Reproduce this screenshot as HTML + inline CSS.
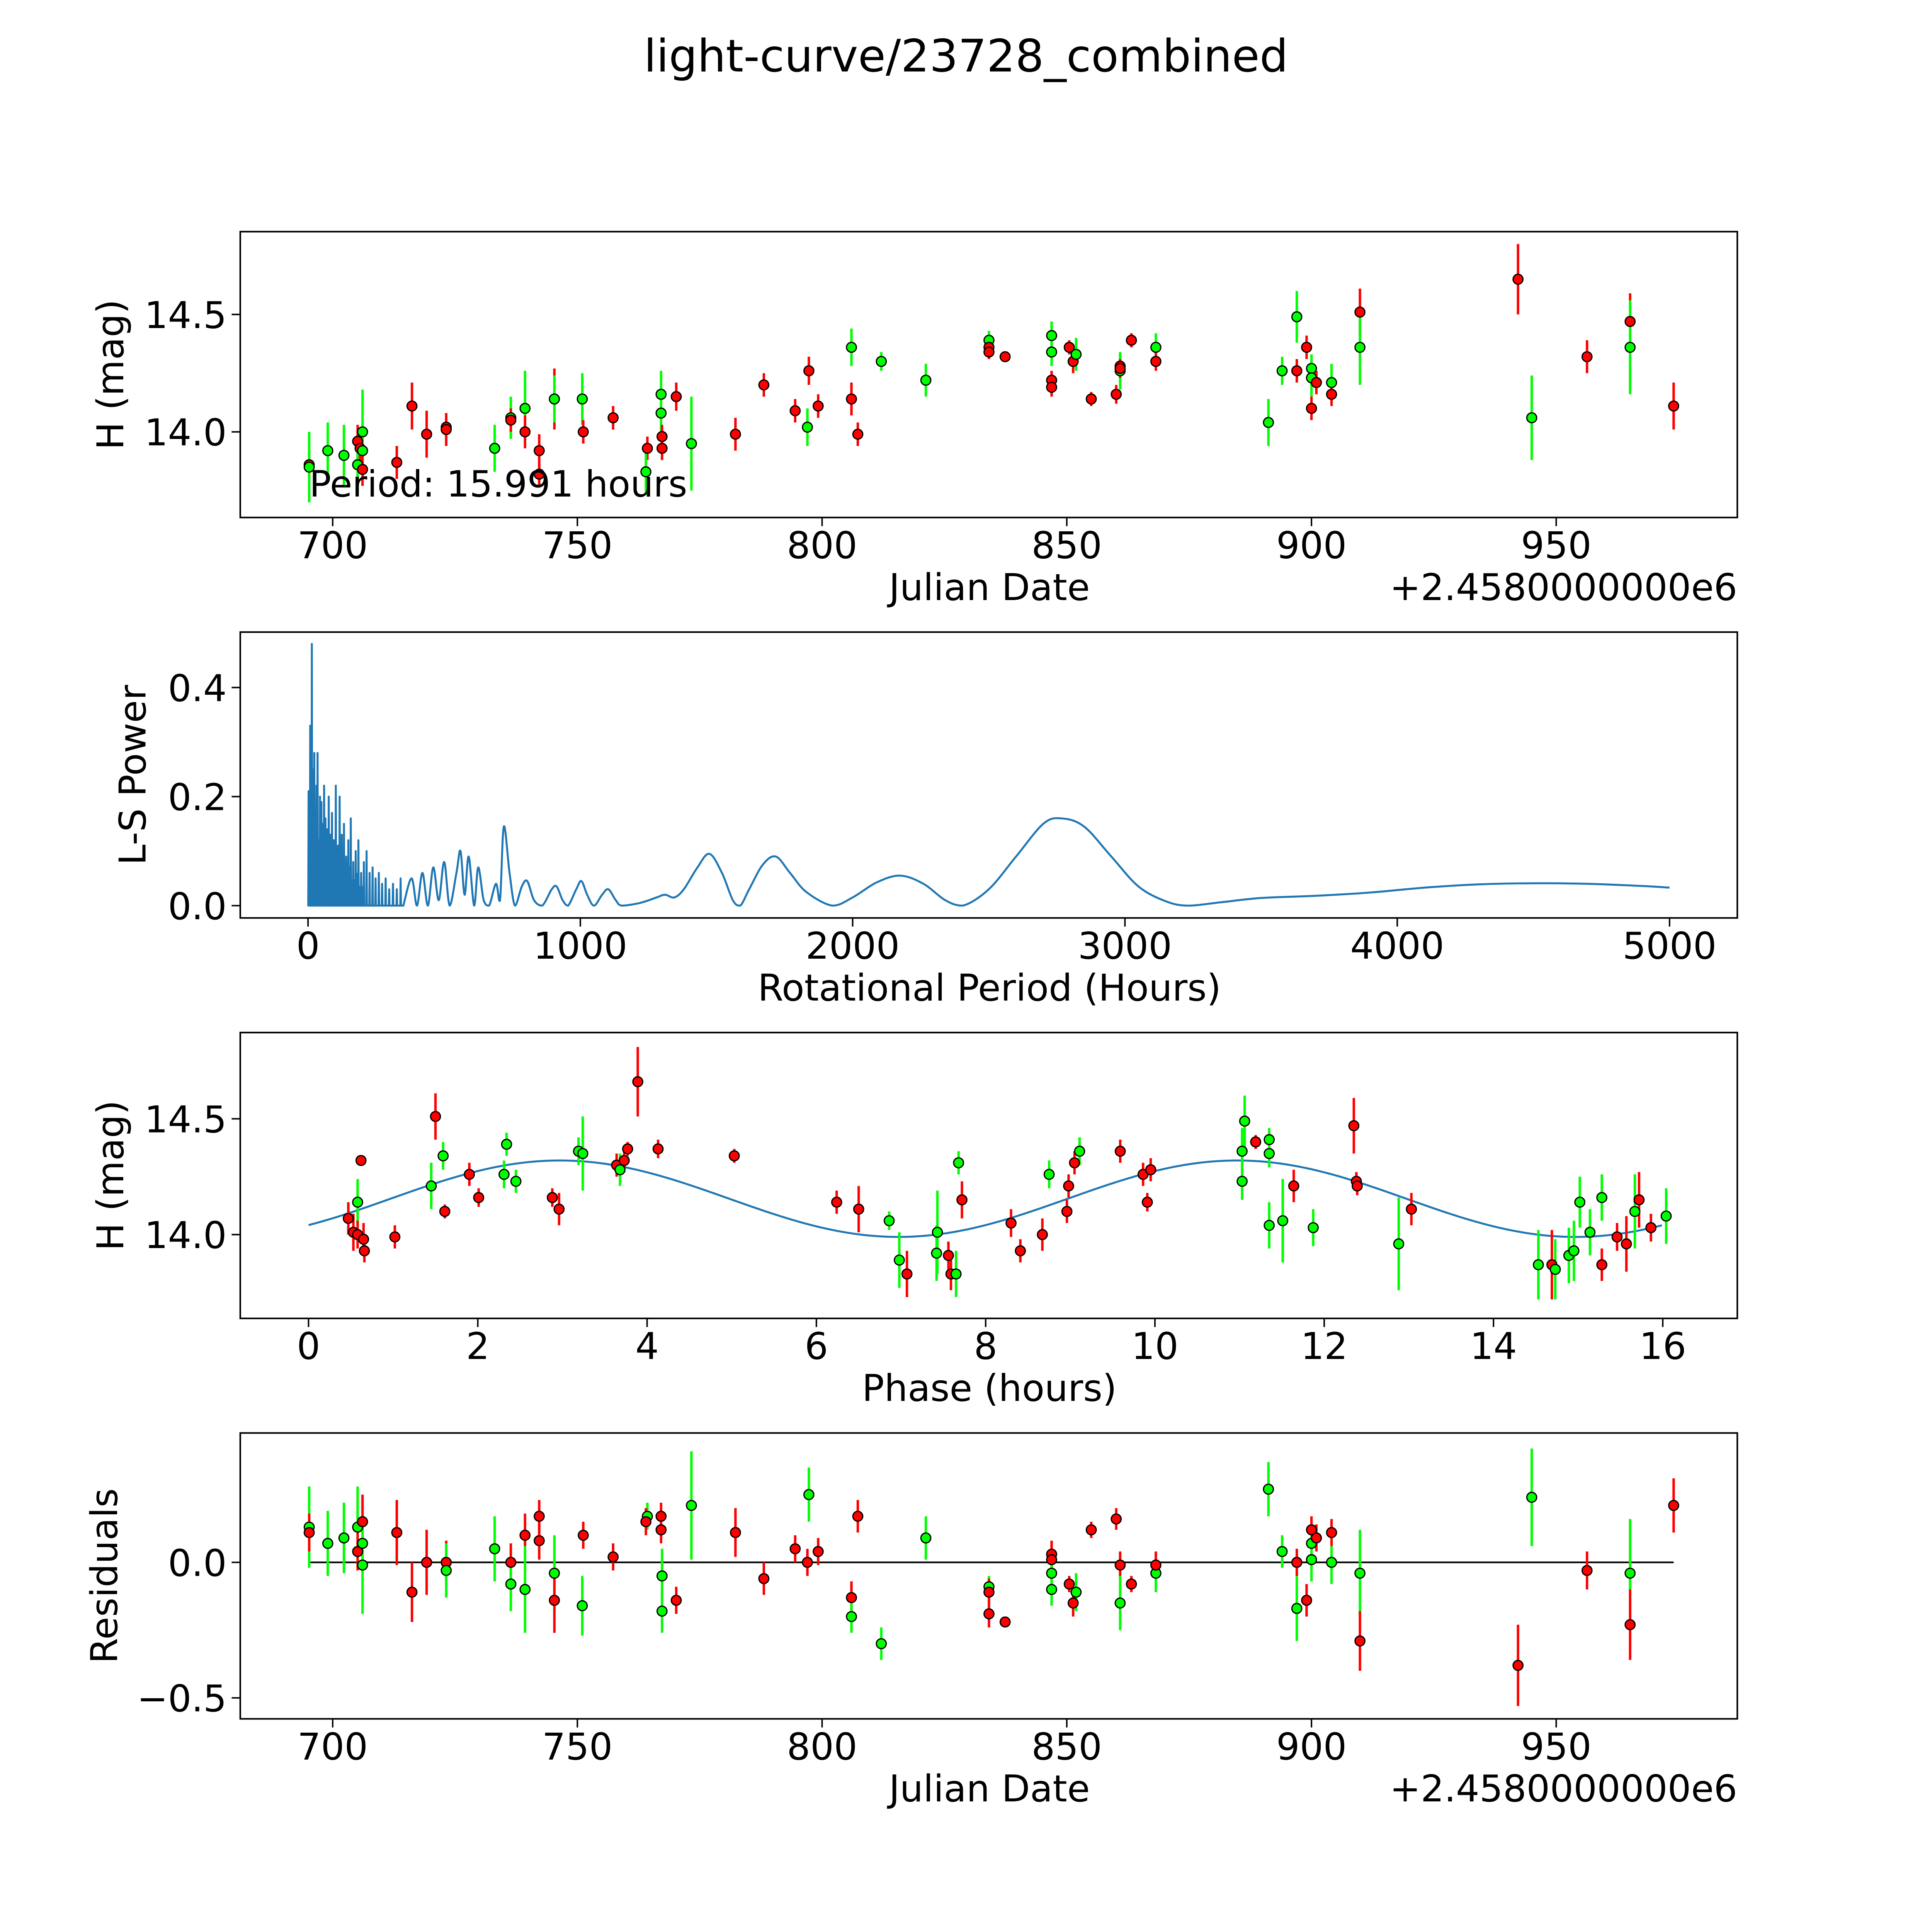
<!DOCTYPE html>
<html>
<head>
<meta charset="utf-8">
<style>
html,body{margin:0;padding:0;background:#fff;overflow:hidden;width:100vw;height:100vh;}
svg{display:block;position:fixed;left:0;top:0;width:100vw;height:100vh;}
text{font-family:"DejaVu Sans","Liberation Sans",sans-serif;fill:#000;}
</style>
</head>
<body>
<svg id="fig" viewBox="0 0 1568 1568" preserveAspectRatio="none" xmlns="http://www.w3.org/2000/svg">
<rect x="0" y="0" width="1568" height="1568" fill="#fff"/>
<text x="784" y="58" font-size="36.5" text-anchor="middle">light-curve/23728_combined</text>
<g id="p1"></g>
<g id="p2"></g>
<g id="p3"></g>
<g id="p4"></g>
</svg>
<script>
// ---------- Panel 1 data: light curve ----------
const lcDate = [695.2,695.2,699.0,702.3,705.1,705.1,705.6,706.1,706.1,706.1,713.1,716.2,719.2,723.2,723.2,733.1,736.4,736.4,739.3,739.3,742.2,742.2,745.3,745.3,751.0,751.2,757.3,764.3,764.0,767.1,767.1,767.3,767.3,770.2,773.3,782.3,788.1,794.5,797.3,797.0,799.2,806.0,806.0,807.3,812.1,821.2,834.1,834.1,834.1,837.4,846.9,846.9,846.9,846.9,850.5,851.3,851.9,855.0,860.1,860.9,860.9,860.9,863.2,868.2,868.2,891.2,894.0,897.0,897.0,899.0,900.0,900.0,900.0,901.0,904.1,904.1,909.9,909.9,942.2,945.0,956.3,965.1,965.1,974.0];
const lcMag = [13.86,13.85,13.92,13.90,13.96,13.86,13.93,14.00,13.92,13.84,13.87,14.11,13.99,14.02,14.01,13.93,14.06,14.05,14.10,14.00,13.92,13.82,14.14,14.14,14.14,14.00,14.06,13.93,13.83,14.16,14.08,13.98,13.93,14.15,13.95,13.99,14.20,14.09,14.26,14.02,14.11,14.36,14.14,13.99,14.30,14.22,14.39,14.36,14.34,14.32,14.41,14.34,14.22,14.19,14.36,14.30,14.33,14.14,14.16,14.28,14.26,14.27,14.39,14.36,14.30,14.04,14.26,14.26,14.49,14.36,14.27,14.23,14.10,14.21,14.21,14.16,14.51,14.36,14.65,14.06,14.32,14.47,14.36,14.11];
const lcErr = [0.06,0.15,0.12,0.13,0.07,0.12,0.06,0.18,0.10,0.07,0.07,0.10,0.10,0.06,0.07,0.10,0.09,0.05,0.16,0.07,0.07,0.05,0.13,0.10,0.11,0.05,0.05,0.05,0.10,0.10,0.10,0.05,0.05,0.06,0.20,0.07,0.05,0.05,0.06,0.08,0.05,0.08,0.07,0.05,0.04,0.07,0.04,0.03,0.03,0.02,0.06,0.06,0.04,0.04,0.03,0.05,0.07,0.03,0.04,0.05,0.08,0.04,0.03,0.06,0.04,0.10,0.06,0.05,0.11,0.05,0.06,0.08,0.05,0.05,0.08,0.05,0.10,0.16,0.15,0.18,0.07,0.12,0.20,0.10];
const lcBand = ['r','g','g','g','r','g','r','g','g','r','r','r','r','r','r','g','g','r','g','r','r','r','r','g','g','r','r','r','g','g','g','r','r','r','g','r','r','r','r','g','r','g','r','r','g','g','g','r','r','r','g','g','r','r','r','r','g','r','r','r','g','r','r','g','r','g','g','r','g','r','g','g','r','r','g','r','r','g','r','g','r','r','g','r'];
const lcXTicks = [700,750,800,850,900,950];
const lcYTicks = [14.0,14.5];

// ---------- Panel 2 data: periodogram ----------
const lsSpikePeriod = [2,5,8,11,14,17,20,23,27,31,35,39,44,49,54,59,64,70,76,82,88,95,102,109,116,124,132,140,148,157,166,175,185,195,205,215,226,237,248,260,272,285,298,312,326,340];
const lsSpikePower  = [0.21,0.12,0.33,0.20,0.48,0.25,0.18,0.28,0.16,0.22,0.28,0.12,0.20,0.19,0.15,0.22,0.16,0.14,0.20,0.13,0.17,0.12,0.22,0.11,0.20,0.13,0.15,0.09,0.12,0.16,0.08,0.10,0.12,0.06,0.08,0.10,0.06,0.07,0.05,0.06,0.04,0.05,0.03,0.04,0.03,0.05];
const lsPeriod = [350,380,400,420,440,460,480,500,520,545,560,575,590,610,625,645,665,690,705,719,740,760,785,805,830,860,895,913,935,955,985,1004,1025,1050,1080,1103,1130,1153,1220,1280,1311,1345,1380,1430,1474,1520,1560,1587,1620,1670,1718,1770,1830,1926,2000,2090,2175,2260,2340,2405,2500,2600,2700,2767,2850,2950,3050,3150,3232,3350,3500,3700,3900,4100,4300,4500,4700,4900,5000];
const lsPower  = [0,0.05,0,0.06,0,0.07,0.01,0.08,0,0.06,0.10,0.02,0.09,0,0.07,0.01,0,0.04,0.01,0.145,0.06,0,0.035,0.045,0.01,0,0.03,0.035,0.01,0,0.03,0.045,0.02,0,0.02,0.03,0.01,0,0.005,0.015,0.02,0.015,0.03,0.07,0.095,0.06,0.01,0,0.03,0.075,0.09,0.06,0.025,0,0.015,0.043,0.055,0.04,0.01,0,0.03,0.09,0.15,0.16,0.145,0.09,0.035,0.008,0,0.006,0.014,0.018,0.024,0.033,0.039,0.041,0.04,0.036,0.033];
const lsXTicks = [0,1000,2000,3000,4000,5000];
const lsYTicks = [0.0,0.2,0.4];

// ---------- Panel 3 data: phased ----------
const phPhase = [0.47,0.53,0.58,0.58,0.62,0.65,0.66,1.02,1.50,1.45,1.59,1.61,1.90,2.01,2.34,2.31,2.45,2.88,2.96,3.19,3.24,3.64,3.68,3.73,3.77,3.89,4.13,5.03,6.24,6.50,6.86,6.98,7.07,7.43,7.42,7.56,7.59,7.65,7.68,7.72,8.30,8.41,8.67,8.75,8.96,8.98,9.05,9.11,9.59,9.86,9.91,9.95,11.03,11.03,11.06,11.19,11.35,11.35,11.35,11.51,11.64,11.87,12.35,12.38,12.39,12.88,13.03,14.53,14.69,14.73,14.89,14.95,15.02,15.14,15.28,15.28,15.46,15.57,15.67,15.72,15.86,16.04];
const phMag = [14.07,14.01,14.14,14.00,14.32,13.98,13.93,13.99,14.51,14.21,14.34,14.10,14.26,14.16,14.39,14.26,14.23,14.16,14.11,14.36,14.35,14.30,14.28,14.32,14.37,14.66,14.37,14.34,14.14,14.11,14.06,13.89,13.83,14.01,13.92,13.91,13.83,13.83,14.31,14.15,14.05,13.93,14.00,14.26,14.10,14.21,14.31,14.36,14.36,14.26,14.14,14.28,14.36,14.23,14.49,14.40,14.41,14.35,14.04,14.06,14.21,14.03,14.47,14.23,14.21,13.96,14.11,13.87,13.87,13.85,13.91,13.93,14.14,14.01,14.16,13.87,13.99,13.96,14.10,14.15,14.03,14.08];
const phErr = [0.07,0.08,0.10,0.06,0.02,0.07,0.05,0.05,0.10,0.10,0.06,0.03,0.05,0.04,0.05,0.06,0.05,0.04,0.07,0.06,0.16,0.05,0.07,0.05,0.03,0.15,0.04,0.03,0.05,0.10,0.04,0.12,0.10,0.18,0.12,0.06,0.07,0.10,0.05,0.08,0.06,0.05,0.07,0.06,0.05,0.05,0.05,0.06,0.05,0.05,0.04,0.05,0.10,0.08,0.11,0.03,0.05,0.06,0.10,0.18,0.07,0.08,0.12,0.04,0.04,0.20,0.07,0.15,0.15,0.13,0.12,0.13,0.11,0.10,0.10,0.07,0.06,0.12,0.16,0.12,0.06,0.12];
const phBand = ['r','r','g','r','r','r','r','r','r','g','g','r','r','r','g','g','g','r','r','g','g','r','g','r','r','r','r','r','r','r','g','g','r','g','g','r','r','g','g','r','r','r','r','g','r','r','r','g','r','r','r','r','g','g','g','r','g','g','g','g','r','g','r','r','r','g','r','g','r','g','g','g','g','g','g','r','r','r','g','r','r','g'];
const phModelMean = [14.155];
const phModelAmp = [0.165];
const phModelPeak = [2.97];
const phModelPeriod = [8.0];
const phXTicks = [0,2,4,6,8,10,12,14,16];
const phYTicks = [14.0,14.5];

// ---------- Panel 4 data: residuals ----------
const rsDate = [695.2,695.2,699.0,702.3,705.1,705.1,706.1,706.1,706.1,713.1,716.2,719.2,723.2,723.2,733.1,736.4,736.4,739.3,739.3,742.2,742.2,745.3,745.3,751.0,751.2,757.3,764.3,764.0,767.1,767.1,767.3,767.3,770.2,773.3,782.3,788.1,794.5,797.3,797.0,799.2,806.0,806.0,807.3,812.1,821.2,834.1,834.1,834.1,837.4,846.9,846.9,846.9,846.9,850.5,851.3,851.9,855.0,860.1,860.9,860.9,863.2,868.2,868.2,891.2,894.0,897.0,897.0,899.0,900.0,900.0,900.0,901.0,904.1,904.1,909.9,909.9,942.2,945.0,956.3,965.1,965.1,974.0];
const rsVal = [0.13,0.11,0.07,0.09,0.13,0.04,0.15,0.07,-0.01,0.11,-0.11,0.0,0.0,-0.03,0.05,0.0,-0.08,0.10,-0.10,0.17,0.08,-0.04,-0.14,-0.16,0.10,0.02,0.17,0.15,0.17,0.12,-0.05,-0.18,-0.14,0.21,0.11,-0.06,0.05,0.25,0.0,0.04,-0.13,-0.20,0.17,-0.30,0.09,-0.09,-0.11,-0.19,-0.22,0.03,0.01,-0.04,-0.10,-0.08,-0.15,-0.11,0.12,0.16,-0.01,-0.15,-0.08,-0.04,-0.01,0.27,0.04,-0.17,0.0,-0.14,0.12,0.07,0.01,0.09,0.0,0.11,-0.04,-0.29,-0.38,0.24,-0.03,-0.04,-0.23,0.21];
const rsErr = [0.15,0.07,0.12,0.13,0.15,0.07,0.10,0.10,0.18,0.12,0.11,0.12,0.08,0.10,0.12,0.07,0.10,0.08,0.16,0.06,0.07,0.14,0.12,0.11,0.05,0.05,0.05,0.05,0.05,0.05,0.10,0.08,0.05,0.20,0.09,0.06,0.05,0.10,0.05,0.05,0.06,0.06,0.06,0.06,0.08,0.04,0.05,0.05,0.02,0.05,0.05,0.06,0.06,0.03,0.05,0.07,0.03,0.04,0.05,0.10,0.03,0.07,0.05,0.10,0.06,0.12,0.05,0.06,0.05,0.07,0.08,0.05,0.08,0.05,0.16,0.11,0.15,0.18,0.07,0.20,0.13,0.10];
const rsBand = ['g','r','g','g','g','r','r','g','g','r','r','r','r','g','g','r','g','r','g','r','r','g','r','g','r','r','g','r','r','r','g','g','r','g','r','r','r','g','r','r','r','g','r','g','g','g','r','r','r','r','r','g','g','r','r','g','r','r','r','g','r','g','r','g','g','g','r','r','r','g','g','r','g','r','g','r','r','g','r','g','r','r'];
const rsYTicks = [-0.5,0.0];

// ---------- drawing helpers ----------
const NS = 'http://www.w3.org/2000/svg';
const FL = 195, FR = 1410;
const FS = 30;
function mk(parent, tag, attrs) {
  const e = document.createElementNS(NS, tag);
  for (const k in attrs) e.setAttribute(k, attrs[k]);
  parent.appendChild(e);
  return e;
}
function lin(d0, p0, d1, p1) { return v => p0 + (v - d0) * (p1 - p0) / (d1 - d0); }
const COL = { r: '#ff0000', g: '#00ff00' };

function frame(g, top, bot, xs, xTicks, xFmt, ys, yTicks, yFmt, xlabel, ylabel, ylabelX, offset) {
  const f = mk(g, 'rect', { x: FL, y: top, width: FR - FL, height: bot - top, fill: 'none', stroke: '#000', 'stroke-width': 1.3 });
  
  
  xTicks.forEach(v => {
    const x = xs(v);
    const t = mk(g, 'line', { x1: x, x2: x, y1: bot, y2: bot + 7, stroke: '#000', 'stroke-width': 1.2 });
    
    
    const l = mk(g, 'text', { x: x, y: bot + 33, 'font-size': FS, 'text-anchor': 'middle' });
    l.textContent = xFmt(v);
    
    
  });
  yTicks.forEach(v => {
    const y = ys(v);
    const t = mk(g, 'line', { x1: FL - 7, x2: FL, y1: y, y2: y, stroke: '#000', 'stroke-width': 1.2 });
    
    
    const l = mk(g, 'text', { x: FL - 11, y: y + 11, 'font-size': FS, 'text-anchor': 'end' });
    l.textContent = yFmt(v);
    
    
  });
  const xl = mk(g, 'text', { x: 803, y: bot + 67, 'font-size': FS, 'text-anchor': 'middle' });
  xl.textContent = xlabel;
  
  
  const cy = (top + bot) / 2;
  const yl = mk(g, 'text', { x: ylabelX, y: cy, 'font-size': FS, 'text-anchor': 'middle', transform: 'rotate(-90 ' + ylabelX + ' ' + cy + ')' });
  yl.textContent = ylabel;
  
  
  if (offset) {
    const o = mk(g, 'text', { x: FR, y: bot + 67, 'font-size': FS, 'text-anchor': 'end' });
    o.textContent = offset;
    
    
  }
}
function errPoints(g, xsArr, ysArr, errArr, band, xs, ys) {
  xsArr.forEach((xv, i) => {
    const x = xs(xv);
    const e = mk(g, 'line', { x1: x, x2: x, y1: ys(ysArr[i] - errArr[i]), y2: ys(ysArr[i] + errArr[i]), stroke: COL[band[i]], 'stroke-width': 2 });
    
    
  });
  xsArr.forEach((xv, i) => {
    const c = mk(g, 'circle', { cx: xs(xv), cy: ys(ysArr[i]), r: 4, fill: COL[band[i]], stroke: '#000', 'stroke-width': 1 });
    
    
  });
}
const fmt1 = v => v.toFixed(1);
const fmt0 = v => String(v);
const fmtNeg = v => (v < 0 ? '\u2212' + Math.abs(v).toFixed(1) : v.toFixed(1));

// ---------- Panel 1 ----------
(function () {
  const g = document.getElementById('p1');
  const xs = lin(700, 270, 950, 1263);
  const ys = lin(14.0, 350.5, 14.5, 255.2);
  frame(g, 188, 420, xs, lcXTicks, fmt0, ys, lcYTicks, fmt1, 'Julian Date', 'H (mag)', 100, '+2.4580000000e6');
  errPoints(g, lcDate, lcMag, lcErr, lcBand, xs, ys);
  const t = mk(g, 'text', { x: 251, y: 403, 'font-size': 29.5 });
  t.textContent = 'Period: 15.991 hours';
  
  
})();

// ---------- Panel 2 ----------
(function () {
  const g = document.getElementById('p2');
  const xs = lin(0, 250, 5000, 1355);
  const ys = lin(0, 735, 0.4, 558);
  frame(g, 513, 745, xs, lsXTicks, fmt0, ys, lsYTicks, fmt1, 'Rotational Period (Hours)', 'L-S Power', 118, null);
  for (let i = 0; i < lsSpikePeriod.length - 1; i++) {
    const p = lsSpikePeriod[i];
    if (p > 200) break;
    const h = Math.min(lsSpikePower[i], lsSpikePower[i + 1]) * 0.6;
    const b = mk(g, 'rect', { x: xs(p), y: ys(h), width: xs(lsSpikePeriod[i + 1]) - xs(p), height: ys(0) - ys(h), fill: '#1f77b4' });
    
    
  }
  let d = 'M' + xs(1) + ' ' + ys(0);
  lsSpikePeriod.forEach((p, i) => {
    d += ' L' + xs(p - 1.2).toFixed(2) + ' ' + ys(0) + ' L' + xs(p).toFixed(2) + ' ' + ys(lsSpikePower[i]).toFixed(2) + ' L' + xs(p + 1.2).toFixed(2) + ' ' + ys(0);
  });
  const P = lsPeriod.map((p, i) => [xs(p), ys(lsPower[i])]);
  d += ' L' + P[0][0].toFixed(2) + ' ' + P[0][1].toFixed(2);
  for (let i = 0; i < P.length - 1; i++) {
    const p0 = P[Math.max(0, i - 1)], p1 = P[i], p2 = P[i + 1], p3 = P[Math.min(P.length - 1, i + 2)];
    const c1x = p1[0] + (p2[0] - p0[0]) / 6, c1y = p1[1] + (p2[1] - p0[1]) / 6;
    const c2x = p2[0] - (p3[0] - p1[0]) / 6, c2y = p2[1] - (p3[1] - p1[1]) / 6;
    d += ' C' + c1x.toFixed(2) + ' ' + Math.min(c1y, ys(0)).toFixed(2) + ' ' + c2x.toFixed(2) + ' ' + Math.min(c2y, ys(0)).toFixed(2) + ' ' + p2[0].toFixed(2) + ' ' + p2[1].toFixed(2);
  }
  const path = mk(g, 'path', { d: d, fill: 'none', stroke: '#1f77b4', 'stroke-width': 1.6, 'stroke-linejoin': 'round' });
  
  
})();

// ---------- Panel 3 ----------
(function () {
  const g = document.getElementById('p3');
  const xs = lin(0, 250.4, 16, 1349.5);
  const ys = lin(14.0, 1002, 14.5, 908);
  frame(g, 838, 1070, xs, phXTicks, fmt0, ys, phYTicks, fmt1, 'Phase (hours)', 'H (mag)', 100, null);
  let d = '';
  for (let k = 0; k <= 320; k++) {
    const p = 15.99 * k / 320;
    const m = phModelMean[0] + phModelAmp[0] * Math.cos(2 * Math.PI * (p - phModelPeak[0]) / phModelPeriod[0]);
    d += (k ? ' L' : 'M') + xs(p).toFixed(2) + ' ' + ys(m).toFixed(2);
  }
  const path = mk(g, 'path', { d: d, fill: 'none', stroke: '#1f77b4', 'stroke-width': 1.6 });
  
  
  errPoints(g, phPhase, phMag, phErr, phBand, xs, ys);
})();

// ---------- Panel 4 ----------
(function () {
  const g = document.getElementById('p4');
  const xs = lin(700, 270, 950, 1263);
  const ys = lin(0, 1268, -0.5, 1378);
  frame(g, 1163, 1395, xs, lcXTicks, fmt0, ys, rsYTicks, fmtNeg, 'Julian Date', 'Residuals', 95, '+2.4580000000e6');
  const z = mk(g, 'line', { x1: xs(695.2), x2: xs(974.0), y1: ys(0), y2: ys(0), stroke: '#000', 'stroke-width': 1.3 });
  
  
  errPoints(g, rsDate, rsVal, rsErr, rsBand, xs, ys);
})();
</script>
</body>
</html>
